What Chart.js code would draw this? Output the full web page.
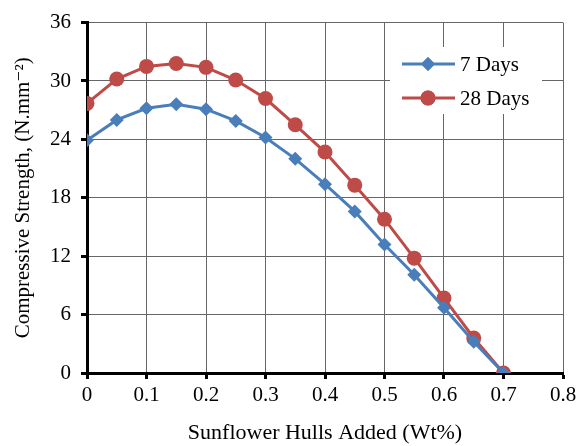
<!DOCTYPE html>
<html lang="en">
<head>
    <meta charset="UTF-8">
    <title>Compressive Strength</title>
    <script src="https://cdn.jsdelivr.net/npm/chart.js"></script>
    <style>
        body { margin: 0; background: #fff; }
    </style>
</head>
<body>
    <canvas id="chart" width="582" height="446"></canvas>
    <script>
        // dane
        const hulls = [0, 0.05, 0.1, 0.15, 0.2, 0.25, 0.3, 0.35, 0.4, 0.45, 0.5, 0.55, 0.6, 0.65, 0.7];
        const days7 = [23.9, 26.0, 27.2, 27.6, 27.1, 25.9, 24.2, 22.0, 19.4, 16.6, 13.2, 10.1, 6.7, 3.2, 0];
        const days28 = [27.7, 30.2, 31.5, 31.8, 31.4, 30.1, 28.2, 25.5, 22.7, 19.3, 15.8, 11.8, 7.7, 3.6, 0];
        const seriesNames = ['7 Days', '28 Days'];
        const xTitle = 'Sunflower Hulls Added (Wt%)';
        const yTitle = 'Compressive Strength, (N.mm\u207B\u00B2)';

        const blue = '#4a7ebb';
        const red = '#be4b48';
        const font = '"Times New Roman", "Liberation Serif", "DejaVu Serif", serif';

        // legenda rysowana wewnatrz obszaru wykresu
        const innerLegend = {
            id: 'innerLegend',
            afterDatasetsDraw(chart) {
                const ctx = chart.ctx;
                ctx.save();
                ctx.fillStyle = '#fff';
                ctx.fillRect(390, 47, 152, 67);
                const rows = [[blue, 'rectRot', 7], [red, 'circle', 7.5]];
                rows.forEach((r, i) => {
                    const y = 64 + i * 34;
                    ctx.strokeStyle = r[0];
                    ctx.lineWidth = 3;
                    ctx.beginPath();
                    ctx.moveTo(402, y);
                    ctx.lineTo(455, y);
                    ctx.stroke();
                    ctx.fillStyle = r[0];
                    Chart.helpers.drawPoint(ctx, { pointStyle: r[1], radius: r[2], borderWidth: 0 }, 428, y);
                    ctx.fill();
                    ctx.fillStyle = '#000';
                    ctx.font = '21px ' + font;
                    ctx.textBaseline = 'middle';
                    ctx.fillText(seriesNames[i], 460, y + 1);
                });
                ctx.restore();
            }
        };

        const toPoints = arr => arr.map((v, i) => ({ x: hulls[i], y: v }));

        new Chart(document.getElementById('chart'), {
            type: 'line',
            data: {
                datasets: [{
                    label: seriesNames[0],
                    data: toPoints(days7),
                    borderColor: blue,
                    backgroundColor: blue,
                    borderWidth: 3,
                    pointStyle: 'rectRot',
                    pointRadius: 7,
                    pointBorderWidth: 0,
                    tension: 0
                }, {
                    label: seriesNames[1],
                    data: toPoints(days28),
                    borderColor: red,
                    backgroundColor: red,
                    borderWidth: 3,
                    pointStyle: 'circle',
                    pointRadius: 7.5,
                    pointBorderWidth: 0,
                    tension: 0
                }]
            },
            options: {
                responsive: false,
                animation: false,
                devicePixelRatio: 1,
                layout: { padding: { top: 19, right: 19, left: 0, bottom: 0 } },
                plugins: {
                    legend: { display: false },
                    tooltip: { enabled: false }
                },
                scales: {
                    x: {
                        type: 'linear',
                        min: 0,
                        max: 0.8,
                        afterFit: s => { s.height = 73; },
                        ticks: {
                            stepSize: 0.1,
                            color: '#000',
                            padding: 4,
                            font: { family: font, size: 21 },
                            callback: v => Math.round(v * 10) / 10
                        },
                        grid: { color: '#666', lineWidth: 1, tickColor: '#000', tickWidth: 3, tickLength: 6 },
                        border: { color: '#000', width: 3 },
                        title: {
                            display: true,
                            text: xTitle,
                            color: '#000',
                            padding: { top: 0, bottom: 0 },
                            font: { family: font, size: 22 }
                        }
                    },
                    y: {
                        min: 0,
                        max: 36,
                        afterFit: s => { s.width = 87; },
                        ticks: {
                            stepSize: 6,
                            color: '#000',
                            padding: 10,
                            font: { family: font, size: 21 }
                        },
                        grid: { color: '#666', lineWidth: 1, tickColor: '#000', tickWidth: 3, tickLength: 6 },
                        border: { color: '#000', width: 3 },
                        title: {
                            display: true,
                            text: yTitle,
                            color: '#000',
                            padding: { top: 11, bottom: 0 },
                            font: { family: font, size: 21 }
                        }
                    }
                }
            },
            plugins: [innerLegend]
        });
    </script>
</body>
</html>
